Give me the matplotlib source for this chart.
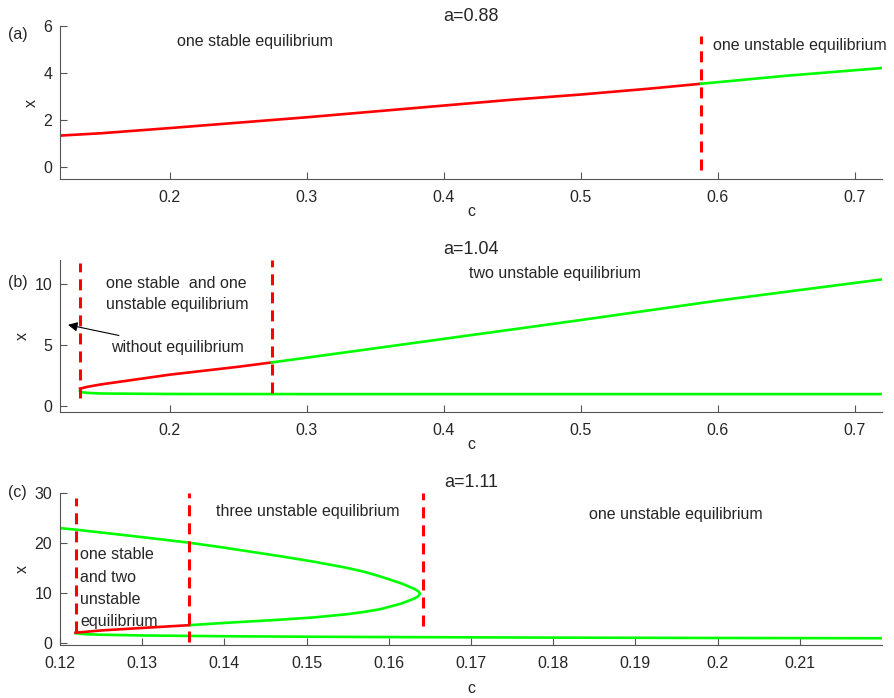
import matplotlib
matplotlib.use("Agg")
import matplotlib.pyplot as plt

plt.rcParams["font.family"] = ["Liberation Sans", "DejaVu Sans"]
plt.rcParams["font.size"] = 11.5

RED = "#ff0000"
GREEN = "#00ff00"
AXC = "#555555"
TXT = "#262626"

# ---- panel (a): a = 0.88 ----
a_red_c = [0.12, 0.15, 0.2, 0.25, 0.3, 0.35, 0.4, 0.45, 0.5, 0.55, 0.588]
a_red_x = [1.35, 1.45, 1.67, 1.9, 2.13, 2.38, 2.63, 2.88, 3.1, 3.35, 3.56]
a_green_c = [0.588, 0.65, 0.72]
a_green_x = [3.56, 3.9, 4.23]
a_vlines = [(0.588, -0.1, 5.6)]

# ---- panel (b): a = 1.04 ----
b_red_c = [0.1346, 0.14, 0.15, 0.175, 0.2, 0.25, 0.2746]
b_red_x = [1.4, 1.55, 1.75, 2.15, 2.55, 3.2, 3.56]
b_up_c = [0.2746, 0.3, 0.4, 0.5, 0.6, 0.72]
b_up_x = [3.56, 3.95, 5.5, 7.05, 8.65, 10.4]
b_low_c = [0.1346, 0.136, 0.14, 0.15, 0.2, 0.3, 0.5, 0.72]
b_low_x = [1.2, 1.1, 1.05, 1.0, 0.96, 0.95, 0.95, 0.95]
b_vlines = [(0.1346, 0.63, 11.75), (0.2746, 1.04, 12.0)]

# ---- panel (c): a = 1.11 ----
c_top_c = [0.12, 0.1219, 0.13, 0.1357, 0.14, 0.1468, 0.1509, 0.155, 0.157,
           0.159, 0.1615, 0.1631, 0.1636, 0.1638]
c_top_x = [23.0, 22.7, 21.2, 20.1, 19.1, 17.4, 16.3, 15.05, 14.3,
           13.35, 12.0, 10.9, 10.4, 9.95]
c_mid_c = [0.1638, 0.1636, 0.1631, 0.1615, 0.159, 0.157, 0.155, 0.1509,
           0.1468, 0.14, 0.1357]
c_mid_x = [9.95, 9.45, 8.95, 7.95, 6.85, 6.3, 5.85, 5.2, 4.75, 4.1, 3.65]
c_red_c = [0.1219, 0.125, 0.13, 0.1357]
c_red_x = [2.15, 2.6, 3.1, 3.65]
c_low_c = [0.1219, 0.123, 0.125, 0.13, 0.14, 0.15, 0.16, 0.18, 0.2, 0.22]
c_low_x = [2.05, 1.85, 1.75, 1.6, 1.45, 1.35, 1.28, 1.17, 1.1, 1.05]
c_vlines = [(0.1219, 2.3, 29.0), (0.1357, 0.3, 30.0), (0.1641, 3.5, 30.0)]

fig = plt.figure(figsize=(8.94, 6.98), dpi=100)

W, H = 894, 698
def box(top, bottom):
    return [60 / W, (H - bottom) / H, (882 - 60) / W, (bottom - top) / H]

axa = fig.add_axes(box(26.5, 179))
axb = fig.add_axes(box(260, 411.7))
axc = fig.add_axes(box(493, 645))

def style(ax, xpad):
    for s in ["top", "right"]:
        ax.spines[s].set_visible(False)
    for s in ["left", "bottom"]:
        ax.spines[s].set_color(AXC)
        ax.spines[s].set_linewidth(0.8)
    ax.tick_params(direction="in", length=5, width=0.8, color=AXC,
                   labelcolor=TXT, labelsize=11.5)
    ax.tick_params(axis="x", pad=8)
    ax.tick_params(axis="y", pad=5.5)
    ax.set_xlabel("c", color=TXT, labelpad=xpad)
    ax.set_ylabel("x", color=TXT, labelpad=3.5)

def vdash(ax, lines):
    for c0, y0, y1 in lines:
        ax.plot([c0, c0], [y0, y1], color=RED, lw=2.2, dashes=(3.6, 2.3))

lw = 1.9
# (a)
axa.plot(a_red_c, a_red_x, color=RED, lw=lw)
axa.plot(a_green_c, a_green_x, color=GREEN, lw=lw)
vdash(axa, a_vlines)
axa.set_xlim(0.12, 0.72)
axa.set_ylim(-0.5, 6)
axa.set_xticks([0.2, 0.3, 0.4, 0.5, 0.6, 0.7])
axa.set_yticks([0, 2, 4, 6])
axa.set_title("a=0.88", color=TXT, fontsize=13, pad=4)
axa.text(0.2055, 5.35, "one stable equilibrium", va="center", color=TXT)
axa.text(0.5963, 5.18, "one unstable equilibrium", va="center", color=TXT)

# (b)
axb.plot(b_red_c, b_red_x, color=RED, lw=lw)
axb.plot(b_up_c, b_up_x, color=GREEN, lw=lw)
axb.plot(b_low_c, b_low_x, color=GREEN, lw=lw)
vdash(axb, b_vlines)
axb.set_xlim(0.12, 0.72)
axb.set_ylim(-0.5, 12)
axb.set_xticks([0.2, 0.3, 0.4, 0.5, 0.6, 0.7])
axb.set_yticks([0, 5, 10])
axb.set_title("a=1.04", color=TXT, fontsize=13, pad=4)
axb.text(0.1536, 10.1, "one stable  and one", va="center", color=TXT)
axb.text(0.1536, 8.3, "unstable equilibrium", va="center", color=TXT)
axb.text(0.4188, 10.85, "two unstable equilibrium", va="center", color=TXT)
axb.annotate("without equilibrium", xy=(0.1258, 6.66), xytext=(0.1573, 4.77),
             va="center", color=TXT,
             arrowprops=dict(arrowstyle="-|>", color="black", lw=0.8,
                             shrinkA=7, shrinkB=0, mutation_scale=14))

# (c)
axc.plot(c_top_c + c_mid_c[1:], c_top_x + c_mid_x[1:], color=GREEN, lw=lw)
axc.plot(c_low_c, c_low_x, color=GREEN, lw=lw)
axc.plot(c_red_c, c_red_x, color=RED, lw=lw)
vdash(axc, c_vlines)
axc.set_xlim(0.12, 0.22)
axc.set_ylim(-0.3, 30)
axc.set_xticks([0.12, 0.13, 0.14, 0.15, 0.16, 0.17, 0.18, 0.19, 0.2, 0.21])
axc.set_xticklabels(["0.12", "0.13", "0.14", "0.15", "0.16", "0.17",
                     "0.18", "0.19", "0.2", "0.21"])
axc.set_yticks([0, 10, 20, 30])
axc.set_title("a=1.11", color=TXT, fontsize=13, pad=4)
axc.text(0.1390, 26.3, "three unstable equilibrium", va="center", color=TXT)
axc.text(0.1843, 25.7, "one unstable equilibrium", va="center", color=TXT)
for txt, yv in zip(["one stable", "and two", "unstable", "equilibrium"],
                   [17.7, 13.2, 8.8, 4.3]):
    axc.text(0.12244, yv, txt, va="center", color=TXT)

style(axa, -0.5)
style(axb, -0.5)
style(axc, 7)

fig.text(8 / W, 1 - 34 / H, "(a)", va="center", color=TXT)
fig.text(8 / W, 1 - 282 / H, "(b)", va="center", color=TXT)
fig.text(8 / W, 1 - 492 / H, "(c)", va="center", color=TXT)

fig.savefig("out.png", dpi=100)
